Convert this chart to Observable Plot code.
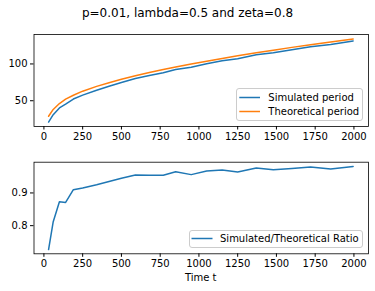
<!DOCTYPE html>
<html><head><meta charset="utf-8">
<script src="https://cdn.jsdelivr.net/npm/d3@7"></script>
<script src="https://cdn.jsdelivr.net/npm/@observablehq/plot@0.6"></script>
<style>
body{margin:0;background:#fff;font-family:"DejaVu Sans",sans-serif;}
#wrap{position:relative;width:375px;height:291px;overflow:hidden;background:#fff}
.abs{position:absolute}
.leg{position:absolute;border:1px solid #cccccc;border-radius:3px;background:rgba(255,255,255,0.8);box-sizing:border-box}
.legtxt{position:absolute;font-size:10px;line-height:12px;white-space:nowrap;color:#000}
</style>
</head><body><div id="wrap"></div>
<script>
// Data
const times = [30, 60, 100, 140, 190, 250, 340, 420, 500, 590, 680, 770, 850, 950, 1050, 1150, 1250, 1370, 1480, 1600, 1720, 1850, 1995];
const simulated = [21.0, 31.0, 40.3, 45.4, 52.3, 57.6, 64.3, 69.7, 74.7, 80.1, 84.2, 88.1, 92.4, 95.5, 100.4, 104.3, 107.1, 112.4, 115.3, 119.4, 123.5, 126.4, 131.3];
const theoretical = [28.9, 38.2, 46.2, 52.1, 57.5, 63.0, 69.5, 74.5, 79.1, 83.9, 88.3, 92.4, 95.8, 99.9, 103.8, 107.5, 111.1, 115.2, 118.7, 122.5, 126.1, 129.9, 133.8];
const ratio = [0.727, 0.812, 0.873, 0.871, 0.910, 0.915, 0.925, 0.935, 0.945, 0.955, 0.954, 0.954, 0.965, 0.956, 0.967, 0.970, 0.964, 0.976, 0.971, 0.975, 0.979, 0.973, 0.981];
const xTicks = [0, 250, 500, 750, 1000, 1250, 1500, 1750, 2000];
const yTicksTop = [50, 100];
const yTicksBottom = [0.8, 0.9];
const titleText = "p=0.01, lambda=0.5 and zeta=0.8";
const seriesNames = ["Simulated period", "Theoretical period"];
const ratioName = "Simulated/Theoretical Ratio";
const xLabel = "Time t";

const BLUE = "#1f77b4", ORANGE = "#ff7f0e";
const wrap = document.getElementById("wrap");

const simData = times.map((t, i) => ({t, v: simulated[i]}));
const theoData = times.map((t, i) => ({t, v: theoretical[i]}));
const ratioData = times.map((t, i) => ({t, v: ratio[i]}));

const style = {fontFamily: "DejaVu Sans", fontSize: "10px", color: "#000", background: "transparent", overflow: "visible"};

const topChart = Plot.plot({
  width: 375, height: 150,
  marginLeft: 33.5, marginRight: 7, marginTop: 34, marginBottom: 24,
  x: {domain: [-64, 2094]},
  y: {domain: [15, 140]},
  style,
  marks: [
    Plot.line(simData, {x: "t", y: "v", stroke: BLUE, strokeWidth: 1.5}),
    Plot.line(theoData, {x: "t", y: "v", stroke: ORANGE, strokeWidth: 1.5}),
    Plot.frame({stroke: "#000", strokeWidth: 0.8}),
    Plot.axisX({ticks: xTicks, tickSize: 3.5, tickPadding: 3, label: null, tickFormat: d3.format("d")}),
    Plot.axisY({ticks: yTicksTop, tickSize: 3.5, tickPadding: 3, label: null, tickFormat: d3.format("d")})
  ]
});
topChart.style.position = "absolute"; topChart.style.left = "0px"; topChart.style.top = "0px";
wrap.appendChild(topChart);

const bottomChart = Plot.plot({
  width: 375, height: 146,
  marginLeft: 33.5, marginRight: 7, marginTop: 16.7, marginBottom: 37.7,
  x: {domain: [-64, 2094]},
  y: {domain: [0.714, 0.994]},
  style,
  marks: [
    Plot.line(ratioData, {x: "t", y: "v", stroke: BLUE, strokeWidth: 1.5}),
    Plot.frame({stroke: "#000", strokeWidth: 0.8}),
    Plot.axisX({ticks: xTicks, tickSize: 3.5, tickPadding: 3, label: null, tickFormat: d3.format("d")}),
    Plot.axisY({ticks: yTicksBottom, tickSize: 3.5, tickPadding: 3, label: null, tickFormat: d3.format(".1f")})
  ]
});
bottomChart.style.position = "absolute"; bottomChart.style.left = "0px"; bottomChart.style.top = "145px";
wrap.appendChild(bottomChart);

function addText(txt, x, y, size, anchorCenter) {
  const d = document.createElement("div");
  d.className = "abs";
  d.textContent = txt;
  d.style.fontSize = size + "px";
  d.style.lineHeight = size + "px";
  d.style.whiteSpace = "nowrap";
  d.style.top = (y - size / 2) + "px";
  if (anchorCenter) { d.style.left = (x - 200) + "px"; d.style.width = "400px"; d.style.textAlign = "center"; }
  else d.style.left = x + "px";
  wrap.appendChild(d);
}
addText(titleText, 187.5, 13.3, 12, true);
addText(xLabel, 200.75, 277.5, 10, true);

function addLegend(left, topY, w, h, items) {
  const box = document.createElement("div");
  box.className = "leg";
  box.style.left = left + "px"; box.style.top = topY + "px";
  box.style.width = w + "px"; box.style.height = h + "px";
  wrap.appendChild(box);
  const ns = "http://www.w3.org/2000/svg";
  const svg = document.createElementNS(ns, "svg");
  svg.setAttribute("width", 375); svg.setAttribute("height", 291);
  svg.style.position = "absolute"; svg.style.left = "0px"; svg.style.top = "0px";
  wrap.appendChild(svg);
  items.forEach(it => {
    const ln = document.createElementNS(ns, "line");
    ln.setAttribute("x1", it.lx); ln.setAttribute("x2", it.lx + it.lw);
    ln.setAttribute("y1", it.y); ln.setAttribute("y2", it.y);
    ln.setAttribute("stroke", it.color); ln.setAttribute("stroke-width", 1.5);
    svg.appendChild(ln);
    const tx = document.createElement("div");
    tx.className = "legtxt";
    tx.textContent = it.label;
    tx.style.left = it.tx + "px"; tx.style.top = (it.y - 6) + "px";
    wrap.appendChild(tx);
  });
}
addLegend(236, 87.7, 127.3, 33, [
  {label: seriesNames[0], color: BLUE, y: 97.5, lx: 239.3, lw: 20.7, tx: 268.3},
  {label: seriesNames[1], color: ORANGE, y: 111.5, lx: 239.3, lw: 20.7, tx: 268.3}
]);
addLegend(188.7, 230, 174.6, 18.3, [
  {label: ratioName, color: BLUE, y: 238.5, lx: 191.5, lw: 21, tx: 220}
]);
</script></body></html>
